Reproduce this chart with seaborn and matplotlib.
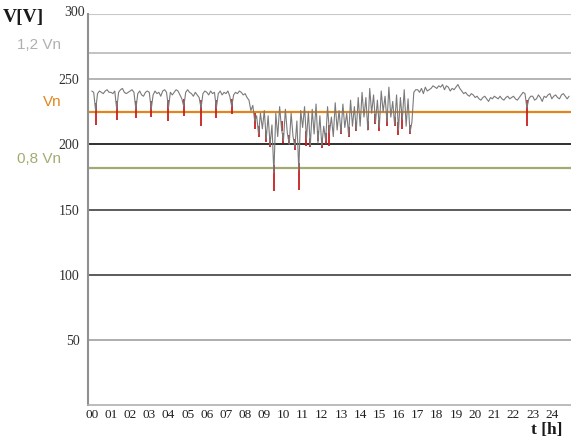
import numpy as np
import pandas as pd
import matplotlib
matplotlib.use("Agg")
import matplotlib.pyplot as plt
import seaborn as sns

# ---- data ----
hours_per_step = 0.1
voltage = [
    241, 240, 226, 239, 241, 240, 239, 241, 242, 240,   # 00
    240, 239, 241, 227, 240, 242, 243, 240, 239, 240,   # 01
    241, 242, 240, 227, 239, 241, 238, 237, 240, 241,   # 02
    240, 227, 238, 241, 239, 240, 237, 241, 242, 240,   # 03
    228, 240, 238, 240, 242, 241, 238, 235, 229, 240,   # 04
    242, 240, 239, 237, 240, 238, 236, 228, 239, 241,   # 05
    240, 238, 241, 239, 240, 228, 239, 241, 238, 240,   # 06
    239, 241, 237, 229, 238, 240, 239, 241, 240, 238,   # 07
    239, 236, 234, 226, 230, 218, 222, 208, 224, 212,   # 08
    226, 204, 222, 200, 215, 178, 224, 206, 229, 212,   # 09
    203, 227, 209, 200, 224, 206, 198, 218, 180, 226,   # 10
    213, 229, 204, 225, 199, 227, 208, 231, 201, 222,   # 11
    199, 214, 203, 229, 209, 221, 206, 232, 211, 226,   # 12
    209, 231, 213, 224, 207, 234, 214, 229, 211, 236,   # 13
    214, 240, 221, 236, 211, 243, 224, 238, 217, 234,   # 14
    213, 241, 225, 237, 217, 244, 221, 233, 215, 238,   # 15
    211, 236, 219, 242, 214, 235, 209, 217, 240, 242,   # 16
    242, 240, 243, 239, 244, 241, 242, 243, 245, 244,   # 17
    243, 245, 244, 246, 242, 245, 244, 241, 243, 242,   # 18
    244, 246, 243, 241, 239, 240, 238, 237, 239, 238,   # 19
    236, 237, 235, 234, 236, 237, 235, 233, 236, 235,   # 20
    237, 236, 235, 237, 235, 234, 236, 237, 235, 236,   # 21
    237, 235, 234, 236, 238, 240, 239, 228, 235, 237,   # 22
    237, 234, 235, 238, 236, 233, 237, 236, 238, 239,   # 23
    235, 237, 238, 236, 235, 238, 239, 237, 235, 237,   # 24
]
dip_hours = [0.2, 1.3, 2.3, 3.1, 4.0, 4.8, 5.7, 6.5, 7.3,
             8.5, 8.7, 9.1, 9.3, 9.5, 9.9, 10.0, 10.3, 10.6, 10.8, 11.2, 11.4,
             11.8, 12.0, 12.2, 12.4, 13.0, 13.4, 13.8, 14.4, 14.8, 15.0,
             15.4, 15.8, 16.0, 16.2, 16.6, 22.7]
dip_min = [215, 219, 220, 221, 218, 222, 214, 220, 223,
           212, 206, 202, 198, 164, 210, 201, 200, 196, 165, 199, 198,
           203, 197, 200, 199, 208, 206, 210, 211, 216, 210,
           214, 214, 207, 212, 208, 214]

ref_levels = [270, 225, 182]
ref_labels = ["1,2 Vn", "Vn", "0,8 Vn"]
ref_colors = ["#b8b8b8", "#e0861c", "#a3ab72"]

y_ticks = [50, 100, 150, 200, 250]
x_tick_labels = [f"{h:02d}" for h in range(25)]

# ---- figure ----
sns.set_style("white")
plt.rcParams["font.family"] = ["Liberation Serif", "DejaVu Serif"]

fig = plt.figure(figsize=(5.71, 4.43), dpi=100)
ax = fig.add_axes([0.154, 0.086, 0.846, 0.882])

t = np.arange(len(voltage)) * hours_per_step
df = pd.DataFrame({"t": t, "V": voltage})

# grid lines
grid_style = {50: ("#a0a0a0", 1.2), 100: ("#404040", 1.2), 150: ("#404040", 1.2),
              200: ("#202020", 1.3), 250: ("#a8a8a8", 1.2), 300: ("#c8c8c8", 1.5)}
for yv, (c, lw) in grid_style.items():
    ax.axhline(yv, color=c, lw=lw, zorder=1)
for lv, c in zip(ref_levels, ref_colors):
    ax.axhline(lv, color=c, lw=1.6 if lv != 270 else 1.2, zorder=1)

# red min dips
trace_at = np.interp(dip_hours, t, voltage)
ax.vlines(dip_hours, dip_min, np.maximum(trace_at, np.array(dip_min) + 1) + 6,
          color="#c82020", lw=1.3, zorder=2)

sns.lineplot(data=df, x="t", y="V", ax=ax, color="#7a7a7a", lw=0.8, zorder=3)

ax.set_xlim(-0.2, 25.0)
ax.set_ylim(0, 300)
ax.set_xlabel("")
ax.set_ylabel("")
ax.set_xticks(range(25))
ax.set_xticklabels(x_tick_labels, fontsize=9.5, color="#202020")
ax.set_xticks(np.arange(-0.0, 25, 0.5), minor=True)
ax.set_yticks(y_ticks)
ax.set_yticklabels([str(v) for v in y_ticks], fontsize=10, color="#303030")
ax.tick_params(axis="y", length=5, width=1.0, color="#606060", pad=1)
ax.tick_params(axis="x", which="both", length=2, color="#b0b0b0", pad=3, direction="in")

for side in ["top", "right"]:
    ax.spines[side].set_visible(False)
ax.spines["left"].set_color("#909090")
ax.spines["left"].set_linewidth(1.5)
ax.spines["bottom"].set_color("#b0b0b0")
ax.spines["bottom"].set_linewidth(1.2)

# axis titles
fig.text(0.005, 0.960, "V[V]", fontsize=14, fontweight="bold", color="#1a1a1a",
         ha="left", va="center")
fig.text(0.112, 0.972, "300", fontsize=10, color="#303030", ha="left", va="center")
fig.text(0.985, 0.012, "t [h]", fontsize=12.5, fontweight="bold", color="#1a1a1a",
         ha="right", va="bottom")

# reference labels
label_y = [0.898, 0.770, 0.640]
label_x = [0.030, 0.075, 0.030]
for ly, lx, txt, c in zip(label_y, label_x, ref_labels, ref_colors):
    fig.text(lx, ly, txt, fontsize=11, color=c if txt != "1,2 Vn" else "#b0b0b0",
             family=["Liberation Sans", "DejaVu Sans"], ha="left", va="center")

fig.savefig("out.png", dpi=100, facecolor="white")
